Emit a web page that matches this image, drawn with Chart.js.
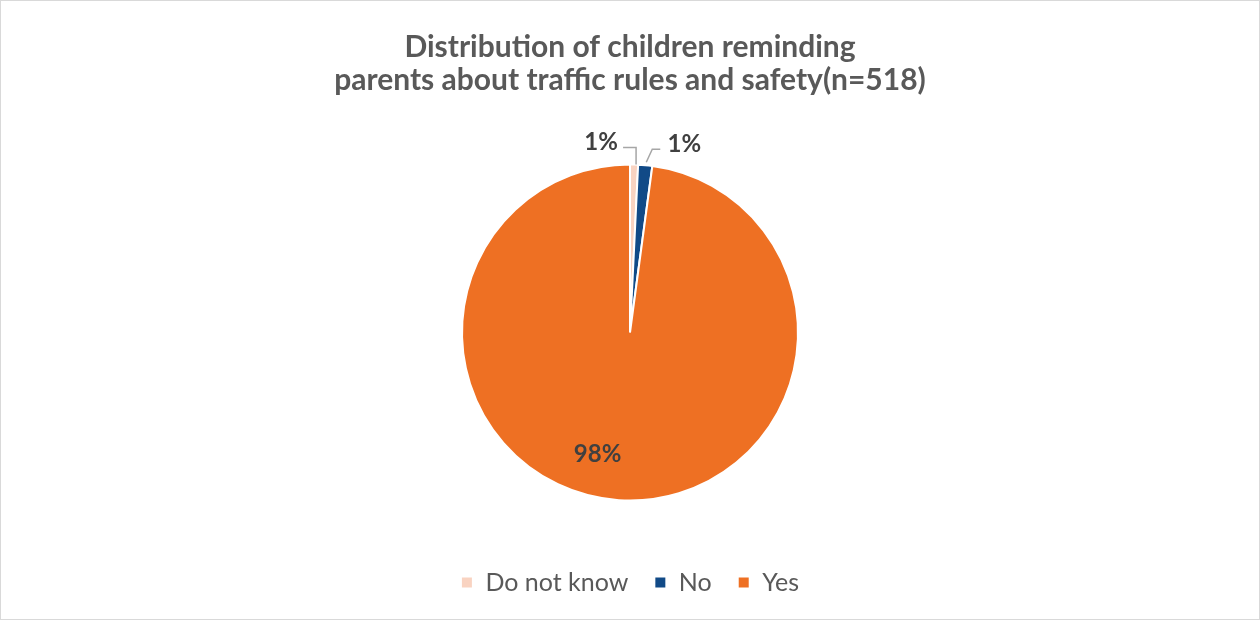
<!DOCTYPE html>
<html>
<head>
<meta charset="utf-8">
<script src="https://cdn.jsdelivr.net/npm/chart.js@4.4.1/dist/chart.umd.min.js"></script>
<style>
  html, body { margin: 0; padding: 0; background: #fff; }
  #wrap { width: 1258px; height: 618px; border: 1px solid #d9d9d9; position: relative; }
</style>
</head>
<body>
<div id="wrap"><canvas id="pie" width="1258" height="618"></canvas></div>
<script>
// data (n=518)
var categories = ['Do not know', 'No', 'Yes'];
var counts = [4, 7, 507];
var sliceColors = ['#F9D3C1', '#114A87', '#EE7023'];

var total = counts.reduce(function (a, b) { return a + b; }, 0);

// label placement per slice: outside with leader line for the thin ones
var labelStyle = [
    { outside: true, dx: -33, dy: -22, leader: 'left' },
    { outside: true, dx: 39, dy: -21, leader: 'right' },
    { outside: false, dx: -24, dy: -4 }
];

var pctLabels = {
    id: 'pctLabels',
    afterDatasetsDraw: function (chart) {
        var ctx = chart.ctx;
        var meta = chart.getDatasetMeta(0);
        ctx.save();
        ctx.font = 'bold 24px Lato, "Open Sans", sans-serif';
        ctx.fillStyle = '#404040';
        ctx.textAlign = 'center';
        ctx.textBaseline = 'middle';
        meta.data.forEach(function (arc, i) {
            var p = arc.getProps(['x', 'y', 'startAngle', 'endAngle', 'outerRadius'], true);
            var mid = (p.startAngle + p.endAngle) / 2;
            var st = labelStyle[i];
            var txt = Math.round(counts[i] / total * 100) + '%';
            if (st.outside) {
                var ox = p.x + Math.cos(mid) * p.outerRadius;
                var oy = p.y + Math.sin(mid) * p.outerRadius;
                var lx = ox + st.dx, ly = oy + st.dy;
                ctx.strokeStyle = '#a6a6a6';
                ctx.lineWidth = 1.5;
                ctx.beginPath();
                if (st.leader === 'left') {
                    ctx.moveTo(lx + 22, ly + 5);
                    ctx.lineTo(ox + 2, ly + 5);
                    ctx.lineTo(ox + 2, oy);
                } else {
                    ctx.moveTo(lx - 24, ly + 5);
                    ctx.lineTo(lx - 32, ly + 5);
                    ctx.lineTo(ox + 1, oy - 3);
                }
                ctx.stroke();
                ctx.fillText(txt, lx, ly);
            } else {
                var r = p.outerRadius * 0.75;
                ctx.fillText(txt, p.x + Math.cos(mid) * r + st.dx, p.y + Math.sin(mid) * r + st.dy);
            }
        });
        ctx.restore();
    }
};

new Chart(document.getElementById('pie').getContext('2d'), {
    type: 'pie',
    data: {
        labels: categories,
        datasets: [{
            data: counts,
            backgroundColor: sliceColors,
            borderColor: '#ffffff',
            borderWidth: 2,
            radius: 168
        }]
    },
    options: {
        responsive: false,
        animation: false,
        layout: { padding: { top: 0, bottom: 14 } },
        plugins: {
            title: {
                display: true,
                text: ['Distribution of children reminding', 'parents about traffic rules and safety(n=518)'],
                color: '#595959',
                font: { family: 'Lato, "Open Sans", sans-serif', size: 30, weight: 'bold', lineHeight: 1.1 },
                padding: { top: 30, bottom: 24 }
            },
            legend: {
                position: 'bottom',
                labels: {
                    color: '#595959',
                    font: { family: 'Lato, "Open Sans", sans-serif', size: 25 },
                    usePointStyle: true,
                    pointStyle: 'rect',
                    boxWidth: 12,
                    boxHeight: 12,
                    padding: 26
                }
            },
            tooltip: { enabled: false }
        }
    },
    plugins: [pctLabels]
});
</script>
</body>
</html>
